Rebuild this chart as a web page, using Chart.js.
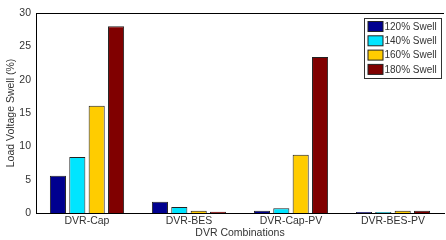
<!DOCTYPE html>
<html>
<head>
<meta charset="utf-8">
<script src="https://cdn.jsdelivr.net/npm/chart.js@4/dist/chart.umd.min.js"></script>
<style>
    html, body { margin: 0; padding: 0; background: #fff; }
    canvas { display: block; }
</style>
</head>
<body>
<canvas id="swellChart" width="446" height="240"></canvas>
<script>
// Data
const categories = ['DVR-Cap', 'DVR-BES', 'DVR-Cap-PV', 'DVR-BES-PV'];
const seriesLabels = ['120% Swell', '140% Swell', '160% Swell', '180% Swell'];
const swell120 = [5.6, 1.7, 0.35, 0.15];
const swell140 = [8.4, 0.9, 0.7, 0.15];
const swell160 = [16.1, 0.35, 8.75, 0.35];
const swell180 = [28.0, 0.2, 23.4, 0.35];
const yTicks = [0, 5, 10, 15, 20, 25, 30];

const colors = ['#00008f', '#00e5ff', '#ffcc00', '#800000'];
const font = { family: 'Liberation Sans, Arial, sans-serif', size: 10.5, lineHeight: 1.1 };

const makeSet = (label, data, color) => ({
    label,
    data,
    backgroundColor: color,
    borderColor: '#222',
    borderWidth: 1,
    categoryPercentage: 0.76,
    barPercentage: 0.83,
});

// frame + legend box inside the plot, like the original figure
const framePlugin = {
    id: 'frame',
    afterDraw(chart) {
        const { ctx, chartArea: a } = chart;
        ctx.save();
        ctx.strokeStyle = '#000';
        ctx.lineWidth = 1;
        ctx.beginPath();
        ctx.moveTo(a.left + 0.5, a.bottom + 0.5);
        ctx.lineTo(a.left + 0.5, a.top + 0.5);
        ctx.lineTo(a.right, a.top + 0.5);
        ctx.stroke();

        const bx = 364.5, by = 18.5, bw = 77, bh = 60;
        ctx.fillStyle = '#fff';
        ctx.fillRect(bx, by, bw, bh);
        ctx.strokeStyle = '#333';
        ctx.strokeRect(bx, by, bw, bh);
        ctx.font = '10px ' + font.family;
        ctx.textBaseline = 'middle';
        chart.data.datasets.forEach((ds, i) => {
            const cy = by + 8 + i * 14.3;
            ctx.fillStyle = ds.backgroundColor;
            ctx.fillRect(bx + 3.5, cy - 5, 15, 10);
            ctx.strokeStyle = '#222';
            ctx.strokeRect(bx + 3.5, cy - 5, 15, 10);
            ctx.fillStyle = '#333';
            ctx.fillText(ds.label, bx + 20, cy + 0.5);
        });
        ctx.restore();
    },
};

const ctx = document.getElementById('swellChart').getContext('2d');

// eslint-disable-next-line no-new
new Chart(ctx, {
    type: 'bar',
    data: {
        labels: categories,
        datasets: [
            makeSet(seriesLabels[0], swell120, colors[0]),
            makeSet(seriesLabels[1], swell140, colors[1]),
            makeSet(seriesLabels[2], swell160, colors[2]),
            makeSet(seriesLabels[3], swell180, colors[3]),
        ],
    },
    options: {
        responsive: false,
        animation: false,
        layout: { padding: { top: 13, right: 2, left: 5, bottom: 1 } },
        plugins: {
            legend: { display: false },
            tooltip: { enabled: false },
        },
        scales: {
            x: {
                grid: { display: false, drawTicks: false },
                border: { display: true, color: '#000', width: 1 },
                ticks: { color: '#333', font, padding: 2, maxRotation: 0, autoSkip: false },
                title: {
                    display: true,
                    text: 'DVR Combinations',
                    color: '#333',
                    font,
                    padding: { top: 0, bottom: 0 },
                },
                afterFit: (scale) => { scale.height = 26; },
            },
            y: {
                min: 0,
                max: 30,
                afterBuildTicks: (scale) => { scale.ticks = yTicks.map((v) => ({ value: v })); },
                grid: { display: false, drawTicks: false },
                border: { display: true, color: '#000', width: 1 },
                ticks: { color: '#333', font, padding: 5 },
                title: {
                    display: true,
                    text: 'Load Voltage Swell (%)',
                    color: '#333',
                    font,
                    padding: { top: 0, bottom: 1 },
                },
                afterFit: (scale) => { scale.width = 31; },
            },
        },
    },
    plugins: [framePlugin],
});
</script>
</body>
</html>
